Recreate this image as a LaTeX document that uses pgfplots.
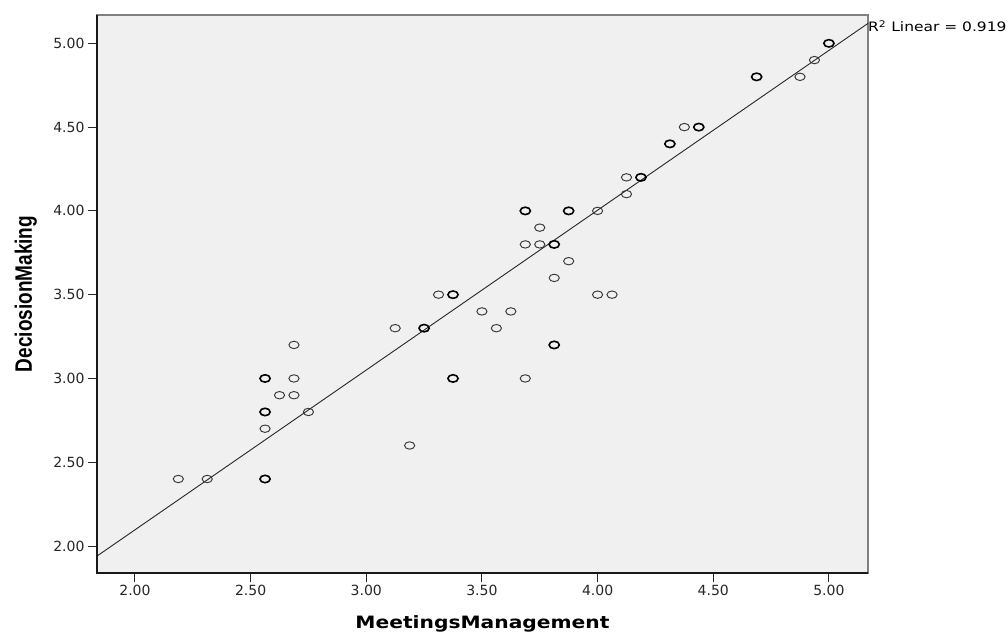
\documentclass[border=0pt]{standalone}
\usepackage{fontspec}
\setmainfont{DejaVu Sans}
\newfontfamily\libsans{Liberation Sans}
\usepackage{graphicx}
\usepackage{pgfplots}
\pgfplotsset{compat=1.18}
\definecolor{bg}{HTML}{F0F0F0}
\begin{document}
\begin{tikzpicture}
\useasboundingbox (0,0) rectangle (1008bp,632bp);
\begin{axis}[
  at={(97bp,59bp)}, anchor=south west,
  scale only axis, width=771bp, height=558bp,
  xmin=1.836, xmax=5.169, ymin=1.839, ymax=5.169,
  axis background/.style={fill=bg},
  axis line style={draw=black!50, line width=1.2bp},
  xtick={2,2.5,3,3.5,4,4.5,5},
  ytick={2,2.5,3,3.5,4,4.5,5},
  xtick pos=left, ytick pos=left,
  tick align=outside,
  major tick length=9bp,
  tick style={black!85, line width=0.9bp},
  /pgf/number format/assume math mode=true,
  /pgf/number format/fixed,
  /pgf/number format/fixed zerofill,
  /pgf/number format/precision=2,
  ticklabel style={font=\fontsize{14bp}{16bp}\selectfont, text=black!85},
  clip=false,
  xlabel={\scalebox{1.19}[1]{\bfseries MeetingsManagement}},
  xlabel style={at={(axis description cs:0.5,-0.0986)}, anchor=base, font=\fontsize{17bp}{20bp}\selectfont},
  ylabel={\scalebox{1}[1.25]{\libsans\bfseries DeciosionMaking}},
  ylabel style={at={(axis description cs:-0.0843,0.5)}, anchor=base, font=\fontsize{19bp}{22bp}\selectfont},
]
% regression line
\addplot[no marks, black!85, line width=0.9bp] coordinates {(1.836,1.940) (5.169,5.119)};
% single observations
\addplot[only marks, mark=o, mark size=3.7bp, black!78, mark options={xscale=1.38, line width=0.95bp}] coordinates {
(2.1875,2.4) (2.3125,2.4) (2.5625,2.7) (2.625,2.9) (2.6875,2.9) (2.6875,3.0)
(2.6875,3.2) (2.75,2.8) (3.1875,2.6) (3.125,3.3) (3.3125,3.5) (3.5,3.4)
(3.5625,3.3) (3.625,3.4) (3.6875,3.0) (4.0,3.5) (4.0625,3.5) (3.75,3.9)
(3.6875,3.8) (3.75,3.8) (3.875,3.7) (3.8125,3.6) (4.0,4.0) (4.125,4.1)
(4.125,4.2) (4.375,4.5) (4.875,4.8) (4.9375,4.9)
};
% repeated observations
\addplot[only marks, mark=o, mark size=3.7bp, black, mark options={xscale=1.38, line width=1.6bp}] coordinates {
(2.5625,2.4) (2.5625,2.8) (2.5625,3.0) (3.25,3.3) (3.375,3.5) (3.375,3.0)
(3.8125,3.2) (3.8125,3.8) (3.6875,4.0) (3.875,4.0) (4.1875,4.2) (4.3125,4.4)
(4.4375,4.5) (4.6875,4.8) (5.0,5.0)
};
\draw[black!90, line width=1.2bp] (rel axis cs:0,1) -- (rel axis cs:0,0) -- (rel axis cs:1,0);
\node[anchor=base west, inner sep=0pt, font=\fontsize{13bp}{15bp}\selectfont] at (axis cs:5.169,5.069) {\scalebox{1.19}[1]{R\textsuperscript{2} Linear = 0.919}};
\end{axis}
\end{tikzpicture}
\end{document}
